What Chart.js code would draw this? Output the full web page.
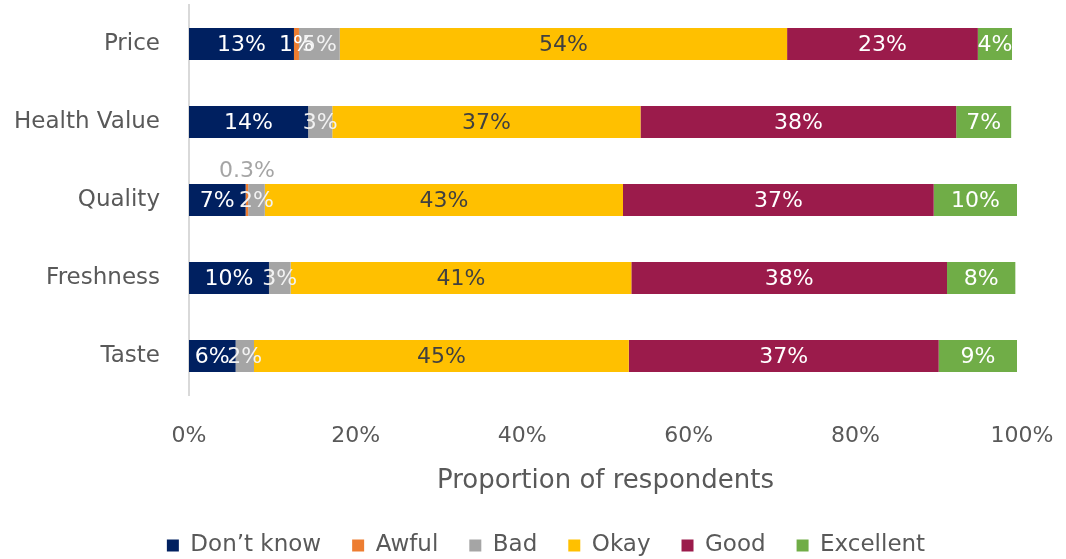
<!DOCTYPE html>
<html>
<head>
<meta charset="utf-8">
<script src="https://cdn.jsdelivr.net/npm/chart.js@4/dist/chart.umd.min.js"></script>
<style>
  html, body { margin: 0; padding: 0; background: #fff; }
  #wrap { width: 1066px; height: 559px; }
</style>
</head>
<body>
<div id="wrap"><canvas id="chart"></canvas></div>
<script>
// categories and series (percent of respondents)
const categories = ['Price', 'Health Value', 'Quality', 'Freshness', 'Taste'];
const seriesNames = ["Don\u2019t know", 'Awful', 'Bad', 'Okay', 'Good', 'Excellent'];
const dontKnow  = [12.6, 14.3, 6.8, 9.6, 5.6];
const awful     = [0.6, 0, 0.3, 0, 0];
const bad       = [4.9, 2.9, 2.0, 2.6, 2.2];
const okay      = [53.7, 37.0, 43.0, 40.9, 45.0];
const good      = [22.9, 37.9, 37.3, 37.9, 37.2];
const excellent = [4.1, 6.6, 10.0, 8.2, 9.4];
const xTicks = [0, 20, 40, 60, 80, 100];

const colors = ['#002060', '#ED7D31', '#A5A5A5', '#FFC000', '#9B1B4B', '#70AD47'];
const labelColors = ['#ffffff', '#ffffff', '#f2f2f2', '#404040', '#ffffff', '#ffffff'];
const FONT = 'DejaVu Sans';

const allSeries = [dontKnow, awful, bad, okay, good, excellent];

function fmt(v) {
  return v < 0.5 ? v.toFixed(1) + '%' : Math.round(v) + '%';
}

// draws the value inside each segment (small ones go above the bar)
const segLabels = {
  id: 'segLabels',
  afterDatasetsDraw(chart) {
    const ctx = chart.ctx;
    ctx.save();
    ctx.font = '22px "' + FONT + '"';
    ctx.textAlign = 'center';
    ctx.textBaseline = 'middle';
    chart.data.datasets.forEach((ds, i) => {
      const meta = chart.getDatasetMeta(i);
      meta.data.forEach((bar, j) => {
        const v = ds.data[j];
        if (!v) return;
        const cx = (bar.x + bar.base) / 2;
        if (v < 0.5) {
          ctx.fillStyle = '#A5A5A5';
          ctx.fillText(fmt(v), cx, bar.y - 29);
        } else {
          ctx.fillStyle = labelColors[i];
          ctx.fillText(fmt(v), cx, bar.y + 1);
        }
      });
    });
    ctx.restore();
  }
};

// the legend sits a little right of the canvas centre in the original
const legendShift = {
  id: 'legendShift',
  afterLayout(chart) {
    chart.legend.left += 35;
    chart.legend.right += 35;
  }
};

new Chart(document.getElementById('chart'), {
  type: 'bar',
  data: {
    labels: categories,
    datasets: allSeries.map((d, i) => ({
      label: seriesNames[i],
      data: d,
      backgroundColor: colors[i],
      borderWidth: 0,
      barPercentage: 0.41,
      categoryPercentage: 1.0
    }))
  },
  options: {
    indexAxis: 'y',
    responsive: true,
    maintainAspectRatio: false,
    animation: false,
    layout: { padding: { top: 5, right: 44, left: 0, bottom: -8 } },
    scales: {
      x: {
        stacked: true,
        min: 0,
        max: 100,
        grid: { display: false },
        border: { display: false },
        afterBuildTicks(scale) {
          scale.ticks = xTicks.map(v => ({ value: v }));
        },
        afterFit(scale) {
          scale.height = 108;
          scale.paddingLeft = 0;
          scale.paddingRight = 0;
        },
        ticks: {
          color: '#595959',
          font: { family: FONT, size: 22 },
          padding: 20,
          callback: v => v + '%'
        },
        title: {
          display: true,
          text: 'Proportion of respondents',
          color: '#595959',
          font: { family: FONT, size: 26 },
          padding: { top: 8, bottom: 6 }
        }
      },
      y: {
        stacked: true,
        grid: { display: false },
        border: { display: true, color: '#D9D9D9', width: 2 },
        afterFit(scale) {
          scale.width = 189;
          scale.paddingTop = 0;
          scale.paddingBottom = 0;
        },
        ticks: {
          color: '#595959',
          font: { family: FONT, size: 23 },
          padding: 21
        }
      }
    },
    plugins: {
      legend: {
        position: 'bottom',
        labels: {
          color: '#595959',
          font: { family: FONT, size: 23 },
          boxWidth: 12,
          boxHeight: 12,
          padding: 31
        }
      },
      tooltip: { enabled: false }
    }
  },
  plugins: [segLabels, legendShift]
});
</script>
</body>
</html>
